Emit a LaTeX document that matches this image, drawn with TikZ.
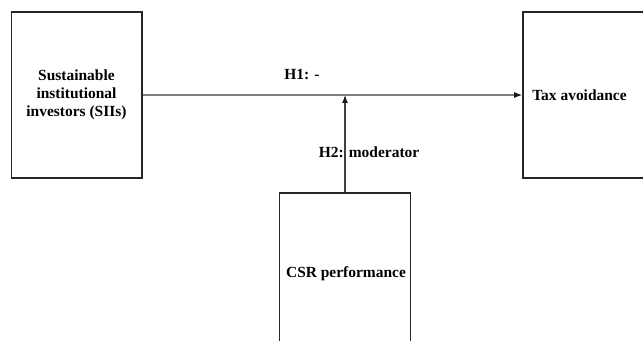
\documentclass[tikz,border=0pt]{standalone}
\usepackage{fontspec}
\setmainfont{Liberation Serif}
\usetikzlibrary{arrows.meta}

\begin{document}
\begin{tikzpicture}[x=0.75pt, y=-0.75pt,
        box_style/.style={rectangle,draw=black!85,line width=1pt,minimum width=98pt,minimum height=124.5pt,align=center,font=\bfseries\fontsize{11.6}{13.5}\selectfont},
        label_style/.style={draw=none,fill=none,font=\bfseries\fontsize{11.6}{13.5}\selectfont},
        edge_style/.style={draw=black!50, line width=0.8pt,-{Latex[length=6pt,width=4.5pt,black!90]}},
        mod_edge_style/.style={draw=black!75, line width=0.8pt,-{Latex[length=6pt,width=4.5pt,black!90]}}]
        \useasboundingbox (0,0) rectangle (643,341);

        \node [box_style] (sii) at (76.5,95) {Sustainable\\institutional\\investors (SIIs)};
        \node [box_style, minimum width=91pt] (tax) at (583.5,95) {\hspace*{-6pt}Tax avoidance};
        \node [box_style] (csr) at (345,276) {};
        \node [label_style] at (346,274) {CSR performance};
        \coordinate (meet) at (csr.north |- sii.east);

        \draw [edge_style] (sii.east) -- (tax.west);
        \draw [mod_edge_style] (csr.north) -- (meet);

        \node [label_style] (h1) at (302,75) {H1: -};
        \node [label_style] (h2) at (369,152) {H2: moderator};
\end{tikzpicture}
\end{document}
